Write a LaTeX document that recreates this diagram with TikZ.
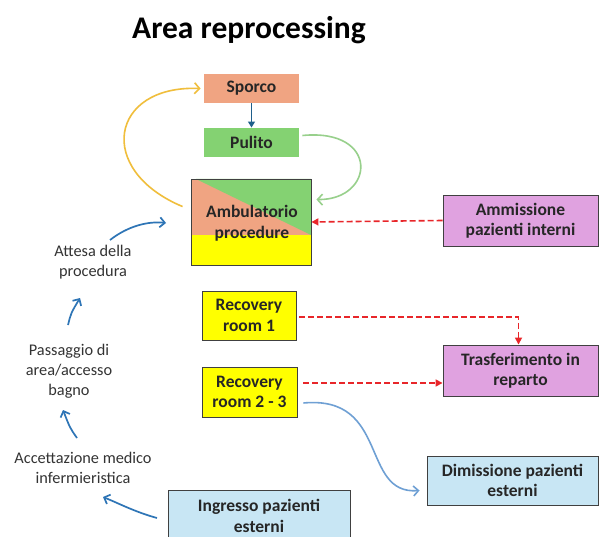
\documentclass[tikz,border=0pt]{standalone}
\usepackage{fontspec}
\setmainfont{Carlito}
\usetikzlibrary{arrows.meta}

\definecolor{sporcoc}{HTML}{F0A482}
\definecolor{pulitoc}{HTML}{84D272}
\definecolor{ylw}{HTML}{FFFF00}
\definecolor{pinkc}{HTML}{E0A2E0}
\definecolor{skyc}{HTML}{C8E6F4}
\definecolor{arcy}{HTML}{F0BE3C}
\definecolor{arcg}{HTML}{98D08C}
\definecolor{flowb}{HTML}{2E75B6}
\definecolor{exitb}{HTML}{6FA0D4}
\definecolor{dred}{HTML}{E8262A}
\definecolor{darkb}{HTML}{1F5F8B}

\tikzset{
  box/.style={draw=black!75, line width=0.9pt, align=center, inner sep=0pt,
    font=\fontsize{17.5}{20.5}\selectfont\bfseries, text=black!85},
  plain/.style={box, draw=none},
  side/.style={align=center, inner sep=0pt, font=\fontsize{16.3}{20}\selectfont, text=black!80},
  bluearr/.style={draw=flowb, line width=1.7pt, -{Straight Barb[length=5pt,width=10pt]}},
  redarr/.style={draw=dred, line width=1.6pt, dash pattern=on 6pt off 3pt, -{Triangle[length=7pt,width=7pt]}},
}

\begin{document}
\begin{tikzpicture}[x=1pt,y=-1pt]
  \clip (0,0) rectangle (599,537);
  \fill[white] (0,0) rectangle (599,537);

  % Title
  \node[font=\fontsize{31.5}{36}\selectfont\bfseries] (title) at (249,30) {Area reprocessing};

  % Reprocessing boxes
  \node[plain, fill=sporcoc, minimum width=95pt, minimum height=29pt] (sporco) at (251.5,88.5) {Sporco};
  \node[plain, fill=pulitoc, minimum width=95pt, minimum height=29pt] (pulito) at (251.5,142.5) {Pulito};

  % Ambulatorio, three colours
  \fill[ylw] (191,179) rectangle (311,265);
  \fill[sporcoc] (191,179) rectangle (311,235);
  \fill[pulitoc] (196,179) -- (311,179) -- (311,235) -- cycle;
  \node[box, minimum width=120pt, minimum height=86pt] (amb) at (251,222) {};
  \node[plain] (ambtext) at (252,223) {Ambulatorio\\procedure};

  % Right-hand boxes
  \node[box, fill=pinkc, minimum width=155pt, minimum height=51pt] (amm) at (520.5,220.5) {Ammissione\\pazienti interni};
  \node[box, fill=ylw, minimum width=94pt, minimum height=49pt] (rec1) at (249,315.5) {Recovery\\room 1};
  \node[box, fill=ylw, minimum width=95pt, minimum height=50pt] (rec2) at (249.5,392) {Recovery\\room 2 - 3};
  \node[box, fill=pinkc, minimum width=155pt, minimum height=51pt] (trasf) at (520.5,370.5) {Trasferimento in\\reparto};
  \node[box, fill=skyc, minimum width=171pt, minimum height=49pt] (dim) at (512.5,480.5) {Dimissione pazienti\\esterni};
  \node[box, fill=skyc, minimum width=182pt, minimum height=52pt, text depth=0pt] (ingr) at (259,516) {Ingresso pazienti\\esterni};

  % Left-hand steps
  \node[side] (attesa) at (93,262) {Attesa della\\procedura};
  \node[side] (pass) at (69,371) {Passaggio di\\area/accesso\\bagno};
  \node[side] (acc) at (83,468) {Accettazione medico\\infermieristica};

  % Loop arrows
  \draw[darkb, line width=1.2pt, -{Triangle[length=6pt,width=7pt]}] (sporco.south) -- (pulito.north);
  \draw[arcy, line width=1.6pt, -{Straight Barb[length=5pt,width=11pt]}]
    ([xshift=-8pt,yshift=-28pt]amb.north west) .. controls (95,170) and (110,85) .. ([xshift=-3pt]sporco.west);
  \draw[arcg, line width=1.6pt, -{Straight Barb[length=5pt,width=11pt]}]
    ([xshift=3pt,yshift=7pt]pulito.east) .. controls (380,128) and (375,200) .. ([xshift=5pt,yshift=-21pt]amb.north east);

  % Dashed arrows
  \draw[redarr] (amm.west) -- (amb.east);
  \draw[redarr] ([xshift=3pt,yshift=-1.5pt]rec1.east) -| ([xshift=-2pt]trasf.north);
  \draw[redarr] ([xshift=6pt,yshift=9pt]rec2.east) -- ([yshift=9pt]rec2.east -| trasf.west);

  % Exit curve
  \draw[exitb, line width=1.6pt, -{Straight Barb[length=5pt,width=10pt]}]
    ([xshift=6pt,yshift=-11pt]rec2.east) .. controls (390,395) and (360,495) .. ([xshift=-7pt,yshift=-10pt]dim.west);

  % Left-hand flow
  \coordinate (a1) at (110,240);
  \coordinate (a2) at (166,223);
  \coordinate (b1) at (68,325);
  \coordinate (b2) at (80,298);
  \coordinate (c1) at (77,438);
  \coordinate (c2) at (63,410);
  \coordinate (d1) at (157,518);
  \coordinate (d2) at (103,497);
  \draw[bluearr] (a1) .. controls (128,226) and (148,221) .. (a2);
  \draw[bluearr] (b1) .. controls (71,313) .. (b2);
  \draw[bluearr] (c1) .. controls (70,428) .. (c2);
  \draw[bluearr] (d1) .. controls (135,512) and (118,503) .. (d2);
\end{tikzpicture}
\end{document}
